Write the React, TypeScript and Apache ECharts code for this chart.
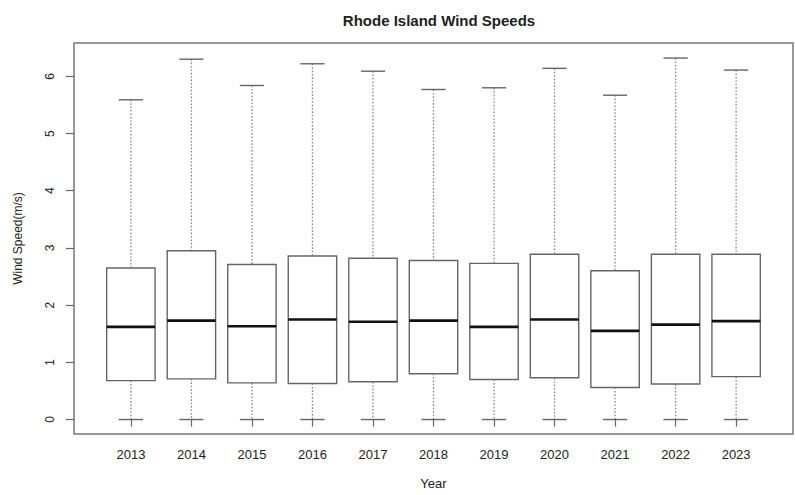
import React, { useEffect, useRef } from "react";
import * as echarts from "echarts";

const years = ["2013", "2014", "2015", "2016", "2017", "2018", "2019", "2020", "2021", "2022", "2023"];
const lowerWhisker = [0, 0, 0, 0, 0, 0, 0, 0, 0, 0, 0];
const q1 = [0.68, 0.71, 0.64, 0.63, 0.66, 0.8, 0.7, 0.73, 0.56, 0.62, 0.75];
const median = [1.62, 1.73, 1.63, 1.75, 1.71, 1.73, 1.62, 1.75, 1.55, 1.66, 1.72];
const q3 = [2.65, 2.95, 2.71, 2.86, 2.82, 2.78, 2.73, 2.89, 2.6, 2.89, 2.89];
const upperWhisker = [5.59, 6.3, 5.84, 6.22, 6.09, 5.77, 5.8, 6.14, 5.67, 6.32, 6.11];
const yTicks = [0, 1, 2, 3, 4, 5, 6];

const FONT = "'Liberation Sans', Arial, sans-serif";

export default function App() {
  const ref = useRef<HTMLDivElement>(null);
  useEffect(() => {
    if (!ref.current) return;
    const chart = echarts.init(ref.current, null, { renderer: "svg" });
    const data = years.map((_, i) => [i + 1, lowerWhisker[i], q1[i], median[i], q3[i], upperWhisker[i]]);
    const xPositions = years.map((_, i) => i + 1);
    const option: any = {
      animation: false,
      backgroundColor: "#ffffff",
      title: {
        text: "Rhode Island Wind Speeds",
        left: 434,
        textAlign: "center",
        top: 8,
        textStyle: { fontFamily: FONT, fontSize: 15, fontWeight: "bold", color: "#222" },
      },
      grid: {
        left: 74,
        right: 2,
        top: 43,
        bottom: 59,
        show: true,
        borderColor: "#777",
        borderWidth: 1.5,
        backgroundColor: "transparent",
      },
      xAxis: {
        type: "value",
        min: 0.06,
        max: 11.94,
        name: "Year",
        nameLocation: "middle",
        nameGap: 43,
        nameTextStyle: { fontFamily: FONT, fontSize: 13, color: "#222" },
        axisLine: { show: false },
        splitLine: { show: false },
        axisTick: { show: true, length: 7, customValues: xPositions, lineStyle: { color: "#666", width: 1.2 } },
        axisLabel: {
          customValues: xPositions,
          formatter: (v: number) => years[Math.round(v) - 1] ?? "",
          fontFamily: FONT,
          fontSize: 13,
          color: "#222",
          margin: 14,
        },
      },
      yAxis: {
        type: "value",
        min: -0.253,
        max: 6.583,
        name: "Wind Speed(m/s)",
        nameLocation: "middle",
        nameGap: 50,
        nameRotate: 90,
        nameTextStyle: { fontFamily: FONT, fontSize: 12, color: "#222" },
        axisLine: { show: false },
        splitLine: { show: false },
        axisTick: { show: true, length: 8, customValues: yTicks, lineStyle: { color: "#666", width: 1.2 } },
        axisLabel: {
          customValues: yTicks,
          rotate: 90,
          fontFamily: FONT,
          fontSize: 12,
          color: "#222",
          margin: 18,
        },
      },
      series: [
        {
          type: "custom",
          data,
          encode: { x: 0, y: [1, 2, 3, 4, 5] },
          renderItem: (params: any, api: any) => {
            const x = api.value(0);
            const lo = api.value(1);
            const a = api.value(2);
            const m = api.value(3);
            const b = api.value(4);
            const hi = api.value(5);
            const boxW = api.size([0.8, 0])[0];
            const capW = api.size([0.4, 0])[0];
            const pLo = api.coord([x, lo]);
            const pA = api.coord([x, a]);
            const pM = api.coord([x, m]);
            const pB = api.coord([x, b]);
            const pHi = api.coord([x, hi]);
            const cx = pM[0];
            const whiskerStyle = { stroke: "#888", lineWidth: 1.3, lineDash: [1.6, 1.8] };
            const solid = { stroke: "#666", lineWidth: 1.4 };
            return {
              type: "group",
              children: [
                { type: "line", shape: { x1: cx, y1: pHi[1], x2: cx, y2: pB[1] }, style: whiskerStyle },
                { type: "line", shape: { x1: cx, y1: pA[1], x2: cx, y2: pLo[1] }, style: whiskerStyle },
                { type: "line", shape: { x1: cx - capW / 2, y1: pHi[1], x2: cx + capW / 2, y2: pHi[1] }, style: solid },
                { type: "line", shape: { x1: cx - capW / 2, y1: pLo[1], x2: cx + capW / 2, y2: pLo[1] }, style: solid },
                {
                  type: "rect",
                  shape: { x: cx - boxW / 2, y: pB[1], width: boxW, height: pA[1] - pB[1] },
                  style: { fill: "#fff", stroke: "#666", lineWidth: 1.4 },
                },
                {
                  type: "line",
                  shape: { x1: cx - boxW / 2, y1: pM[1], x2: cx + boxW / 2, y2: pM[1] },
                  style: { stroke: "#111", lineWidth: 2.6 },
                },
              ],
            };
          },
        },
      ],
    };
    chart.setOption(option);
    return () => chart.dispose();
  }, []);
  return (
    <div
      ref={ref}
      style={{ position: "absolute", left: 0, top: 0, width: 795, height: 495, background: "#fff" }}
    />
  );
}
